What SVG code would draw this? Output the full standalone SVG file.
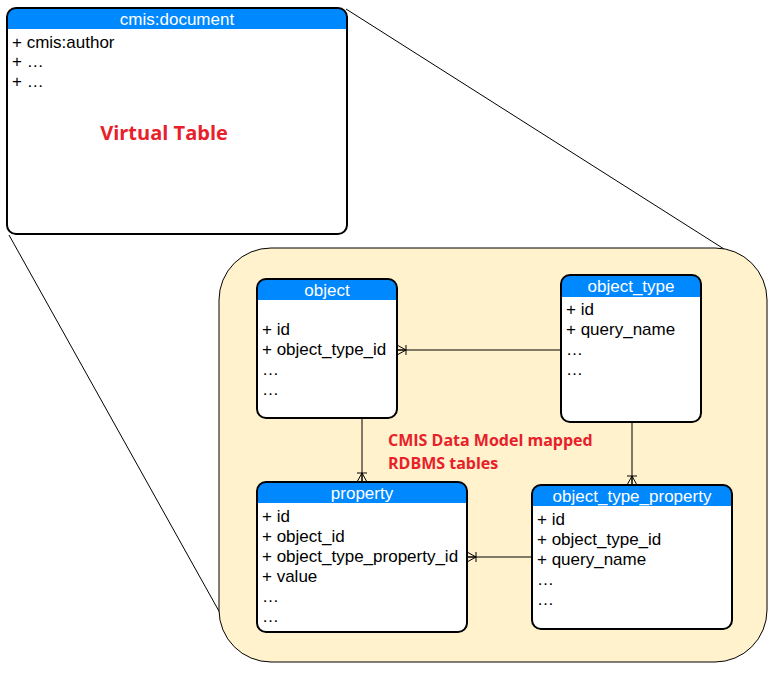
<svg xmlns="http://www.w3.org/2000/svg" width="776" height="678" viewBox="0 0 776 678">
<style>
.hdr{fill:#0088ff}
.body{fill:#ffffff}
.frame{fill:none;stroke:#000;stroke-width:2}
.title{font-family:"Liberation Sans",Arial,sans-serif;font-size:17px;fill:#fff;text-anchor:middle}
.row{font-family:"Liberation Sans",Arial,sans-serif;font-size:17px;fill:#000}
.red{font-family:"Open Sans","Liberation Sans",sans-serif;font-weight:bold;fill:#e8202a}
.conn{stroke:#000;stroke-width:1;fill:none}
</style>
<defs>
<marker id="crow" viewBox="-10 -6 11 12" refX="0" refY="0" markerWidth="11" markerHeight="12" markerUnits="userSpaceOnUse" orient="auto">
<path d="M-9,0 L0,-5 M-9,0 L0,5 M-9,0 L0,0 M-9,-5 L-9,5" stroke="#000" stroke-width="1" fill="none"/>
</marker>
</defs>
<rect width="776" height="678" fill="#fff"/>

<g id="zoom-lines" class="conn">
<line x1="346" y1="9" x2="724" y2="249"/>
<line x1="9" y1="235" x2="220" y2="613"/>
</g>

<g id="container">
<rect x="219" y="248" width="548" height="414" rx="52" ry="52" fill="#fff2cc" stroke="#000" stroke-width="1"/>
</g>

<g id="cmis-document">
<rect class="body" x="7" y="8" width="340" height="226" rx="9"/>
<path class="hdr" d="M7,29 V17 A9,9 0 0 1 16,8 H338 A9,9 0 0 1 347,17 V29 Z"/>
<rect class="frame" x="7" y="8" width="340" height="226" rx="9"/>
<text class="title" x="177" y="25">cmis:document</text>
<text class="row" x="12" y="48">+ cmis:author</text>
<text class="row" x="12" y="67">+ …</text>
<text class="row" x="12" y="87">+ …</text>
<text class="red" x="164" y="140" font-size="20" text-anchor="middle">Virtual Table</text>
</g>

<g id="connectors">
<line class="conn" x1="561" y1="350" x2="397" y2="350" marker-end="url(#crow)"/>
<line class="conn" x1="362" y1="418" x2="362" y2="482" marker-end="url(#crow)"/>
<line class="conn" x1="632" y1="422" x2="632" y2="485" marker-end="url(#crow)"/>
<line class="conn" x1="532" y1="557" x2="467" y2="557" marker-end="url(#crow)"/>
</g>

<g id="object">
<rect class="body" x="257" y="279" width="140" height="139" rx="9"/>
<path class="hdr" d="M257,300 V288 A9,9 0 0 1 266,279 H388 A9,9 0 0 1 397,288 V300 Z"/>
<rect class="frame" x="257" y="279" width="140" height="139" rx="9"/>
<text class="title" x="327" y="296">object</text>
<text class="row" x="262" y="335">+ id</text>
<text class="row" x="262" y="355">+ object_type_id</text>
<text class="row" x="262" y="375">…</text>
<text class="row" x="262" y="395">…</text>
</g>

<g id="object_type">
<rect class="body" x="561" y="275" width="140" height="147" rx="9"/>
<path class="hdr" d="M561,297 V284 A9,9 0 0 1 570,275 H692 A9,9 0 0 1 701,284 V297 Z"/>
<rect class="frame" x="561" y="275" width="140" height="147" rx="9"/>
<text class="title" x="631" y="292">object_type</text>
<text class="row" x="566" y="315">+ id</text>
<text class="row" x="566" y="335">+ query_name</text>
<text class="row" x="566" y="355">…</text>
<text class="row" x="566" y="375">…</text>
</g>

<g id="property">
<rect class="body" x="257" y="482" width="210" height="150" rx="9"/>
<path class="hdr" d="M257,503 V491 A9,9 0 0 1 266,482 H458 A9,9 0 0 1 467,491 V503 Z"/>
<rect class="frame" x="257" y="482" width="210" height="150" rx="9"/>
<text class="title" x="362" y="499">property</text>
<text class="row" x="262" y="522">+ id</text>
<text class="row" x="262" y="542">+ object_id</text>
<text class="row" x="262" y="562">+ object_type_property_id</text>
<text class="row" x="262" y="582">+ value</text>
<text class="row" x="262" y="602">…</text>
<text class="row" x="262" y="622">…</text>
</g>

<g id="object_type_property">
<rect class="body" x="532" y="485" width="200" height="144" rx="9"/>
<path class="hdr" d="M532,506 V494 A9,9 0 0 1 541,485 H723 A9,9 0 0 1 732,494 V506 Z"/>
<rect class="frame" x="532" y="485" width="200" height="144" rx="9"/>
<text class="title" x="632" y="502">object_type_property</text>
<text class="row" x="537" y="525">+ id</text>
<text class="row" x="537" y="545">+ object_type_id</text>
<text class="row" x="537" y="565">+ query_name</text>
<text class="row" x="537" y="585">…</text>
<text class="row" x="537" y="605">…</text>
</g>

<g id="label">
<text class="red" x="388" y="446" font-size="16">CMIS Data Model mapped</text>
<text class="red" x="388" y="469" font-size="16">RDBMS tables</text>
</g>
</svg>
